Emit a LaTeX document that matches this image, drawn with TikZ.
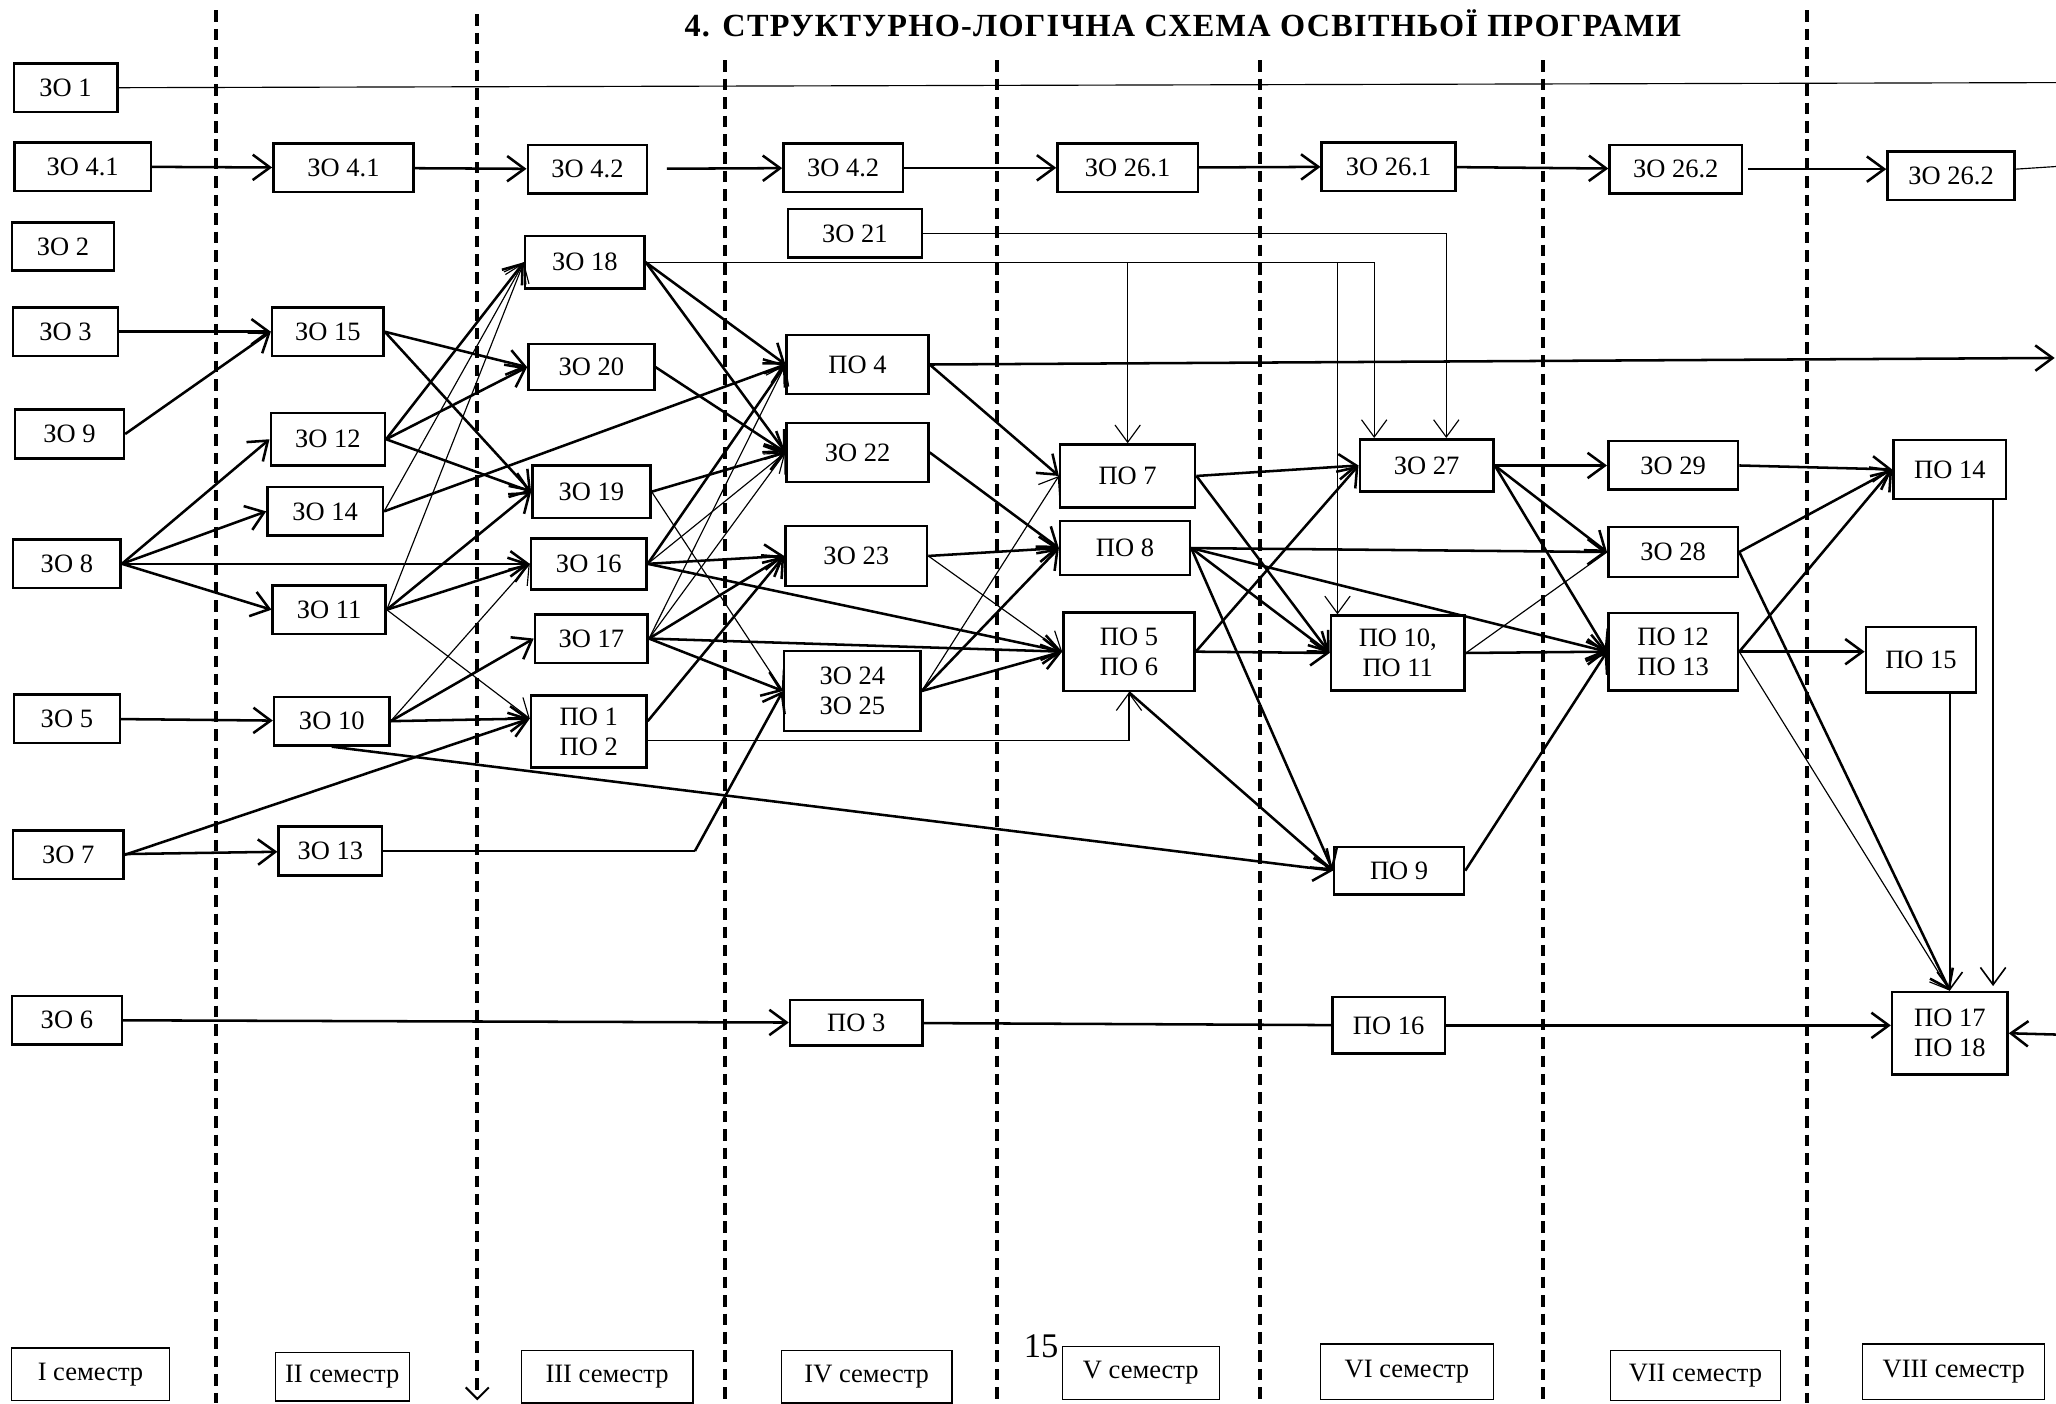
\documentclass[tikz,border=0pt]{standalone}
\usepackage{fontspec}
\setmainfont{Liberation Serif}
\usetikzlibrary{arrows.meta}

\begin{document}
\begin{tikzpicture}[
    x=0.02cm, y=-0.02cm,
    font=\fontsize{11.5}{13}\selectfont,
    zo/.style={draw, line width=1.1pt, minimum width=#1, minimum height=0.74cm, inner sep=1pt, align=center},
    zo/.default=1.7cm,
    sem/.style={draw, line width=0.5pt, minimum width=#1, minimum height=0.8cm, inner sep=1pt},
    semline/.style={line width=1.7pt, dash pattern=on 5pt off 3pt},
    arr/.style={-{Straight Barb[length=7.5pt,width=11pt]}, line width=1.1pt},
    tarr/.style={arr, line width=0.5pt},
    tline/.style={line width=0.5pt},
    bline/.style={line width=1.1pt}
  ]
  \useasboundingbox (0,0) rectangle (1568,1070);

  % Semester borders
  \foreach \x/\t in {165/8, 553/46, 760/46, 961/46, 1177/46, 1378/8}
    \draw[semline] (\x,\t) -- (\x,1070);
  \draw[semline, -{Straight Barb[length=5pt,width=10pt,line width=0.9pt]}] (364,11) -- (364,1068);

  % Title and page number
  \node[font=\bfseries\fontsize{14}{16}\selectfont\addfontfeature{LetterSpace=4}] (title) at (902,18) {4. СТРУКТУРНО-ЛОГІЧНА СХЕМА ОСВІТНЬОЇ ПРОГРАМИ};
  \node[font=\fontsize{15}{17}\selectfont] (pnum) at (794,1027) {15};

  % I semester
  \node[zo=1.58cm] (zo1) at (50,67) {ЗО 1};
  \node[zo=2.08cm] (zo41a) at (63,127) {ЗО 4.1};
  \node[zo=1.56cm] (zo2) at (48,188) {ЗО 2};
  \node[zo=1.6cm] (zo3) at (50,253) {ЗО 3};
  \node[zo=1.66cm] (zo9) at (53,331) {ЗО 9};
  \node[zo=1.64cm] (zo8) at (51,430) {ЗО 8};
  \node[zo=1.62cm] (zo5) at (51,548) {ЗО 5};
  \node[zo=1.68cm] (zo7) at (52,652) {ЗО 7};
  \node[zo=1.68cm] (zo6) at (51,778) {ЗО 6};

  % II semester
  \node[zo=2.14cm] (zo41b) at (262,128) {ЗО 4.1};
  \node[zo=1.7cm] (zo15) at (250,253) {ЗО 15};
  \node[zo=1.74cm, minimum height=0.8cm] (zo12) at (250,335) {ЗО 12};
  \node[zo=1.76cm] (zo14) at (248,390) {ЗО 14};
  \node[zo=1.72cm] (zo11) at (251,465) {ЗО 11};
  \node[zo=1.76cm] (zo10) at (253,550) {ЗО 10};
  \node[zo=1.58cm] (zo13) at (252,649) {ЗО 13};

  % III semester
  \node[zo=1.82cm] (zo42a) at (448,129) {ЗО 4.2};
  \node[zo=1.82cm, minimum height=0.8cm] (zo18) at (446,200) {ЗО 18};
  \node[zo=1.92cm, minimum height=0.7cm] (zo20) at (451,280) {ЗО 20};
  \node[zo=1.8cm, minimum height=0.8cm] (zo19) at (451,375) {ЗО 19};
  \node[zo=1.76cm, minimum height=0.78cm] (zo16) at (449,430) {ЗО 16};
  \node[zo=1.72cm] (zo17) at (451,487) {ЗО 17};
  \node[zo=1.76cm, minimum height=1.1cm] (po12) at (449,558) {ПО 1\\ПО 2};

  % IV semester
  \node[zo=1.82cm] (zo42b) at (643,128) {ЗО 4.2};
  \node[zo=2.04cm] (zo21) at (652,178) {ЗО 21};
  \node[zo=2.16cm, minimum height=0.9cm] (po4) at (654,278) {ПО 4};
  \node[zo=2.16cm, minimum height=0.9cm] (zo22) at (654,345) {ЗО 22};
  \node[zo=2.16cm, minimum height=0.92cm] (zo23) at (653,424) {ЗО 23};
  \node[zo=2.08cm, minimum height=1.22cm] (zo2425) at (650,527) {ЗО 24\\ЗО 25};
  \node[zo=2.02cm, minimum height=0.7cm] (po3) at (653,780) {ПО 3};

  % V semester
  \node[zo=2.14cm] (zo261a) at (860,128) {ЗО 26.1};
  \node[zo=2.06cm, minimum height=0.96cm] (po7) at (860,363) {ПО 7};
  \node[zo=1.98cm, minimum height=0.82cm] (po8) at (858,418) {ПО 8};
  \node[zo=2cm, minimum height=1.2cm] (po56) at (861,497) {ПО 5\\ПО 6};

  % VI semester
  \node[zo=2.04cm] (zo261b) at (1059,127) {ЗО 26.1};
  \node[zo=2.04cm, minimum height=0.8cm] (zo27) at (1088,355) {ЗО 27};
  \node[zo=2.04cm, minimum height=1.14cm] (po1011) at (1066,498) {ПО 10,\\ПО 11};
  \node[zo=1.98cm, minimum height=0.72cm] (po9) at (1067,664) {ПО 9};
  \node[zo=1.72cm, minimum height=0.86cm] (po16) at (1059,782) {ПО 16};

  % VII semester
  \node[zo=2.02cm] (zo262a) at (1278,129) {ЗО 26.2};
  \node[zo=1.98cm] (zo29) at (1276,355) {ЗО 29};
  \node[zo=1.98cm, minimum height=0.76cm] (zo28) at (1276,421) {ЗО 28};
  \node[zo=1.98cm, minimum height=1.18cm] (po1213) at (1276,497) {ПО 12\\ПО 13};

  % VIII semester
  \node[zo=1.94cm] (zo262b) at (1488,134) {ЗО 26.2};
  \node[zo=1.72cm, minimum height=0.9cm] (po14) at (1487,358) {ПО 14};
  \node[zo=1.68cm, minimum height=1cm] (po15) at (1465,503) {ПО 15};
  \node[zo=1.76cm, minimum height=1.26cm] (po1718) at (1487,788) {ПО 17\\ПО 18};

  % Semester labels
  \node[sem=2.4cm] (s1) at (69,1048) {I семестр};
  \node[sem=2.04cm, minimum height=0.74cm] (s2) at (261,1050) {II семестр};
  \node[sem=2.62cm] (s3) at (463,1050) {III семестр};
  \node[sem=2.6cm] (s4) at (661,1050) {IV семестр};
  \node[sem=2.4cm] (s5) at (870,1047) {V семестр};
  \node[sem=2.64cm, minimum height=0.84cm] (s6) at (1073,1046) {VI семестр};
  \node[sem=2.6cm, minimum height=0.76cm] (s7) at (1293,1049) {VII семестр};
  \node[sem=2.78cm, minimum height=0.84cm] (s8) at (1490,1046) {VIII семестр};

  % Free ends and bend points
  \coordinate (out1) at (1568,63);
  \coordinate (out26) at (1568,127);
  \coordinate (out4) at (1567,273);
  \coordinate (out17) at (1568,789);
  \coordinate (k13) at (530,649);
  \coordinate (d27a) at ([xshift=-0.8cm]zo27.north);
  \coordinate (d27b) at ([xshift=0.3cm]zo27.north);
  \coordinate (d1011) at ([xshift=-0.92cm]po1011.north);
  \coordinate (d14) at ([xshift=0.66cm]po14.south);

  % Through lines
  \draw[tline] (zo1) -- (out1);
  \draw[arr] (zo41a) -- (zo41b);
  \draw[arr] (zo41b) -- (zo42a);
  \draw[arr, shorten <=8pt] (zo42a) -- (zo42b);
  \draw[arr] (zo42b) -- (zo261a);
  \draw[arr] (zo261a) -- (zo261b);
  \draw[arr] (zo261b) -- (zo262a);
  \draw[arr, shorten <=2pt] (zo262a.east) -- (zo262a.east -| zo262b.west);
  \draw[tline] (zo262b.east |- zo262a.east) -- (out26);
  \draw[arr] (zo6) -- (po3);
  \draw[bline] (po3) -- (po16);
  \draw[arr] (po16.east) -- (po16.east -| po1718.west);
  \draw[arr] (out17) -- (po1718.east);
  \draw[arr] (po4.east) -- (out4);

  % I -> II
  \draw[arr] (zo3) -- (zo15.west);
  \draw[arr] (zo9.east) -- (zo15.west);
  \foreach \t in {zo12, zo14, zo16, zo11}
    \draw[arr] (zo8.east) -- (\t.west);
  \draw[arr] (zo5) -- (zo10);
  \draw[arr] (zo7) -- (zo13);
  \draw[arr] (zo7.east) -- ([yshift=0.2cm]po12.west);

  % II -> III
  \draw[arr] (zo15.east) -- (zo20.west);
  \draw[arr] (zo15.east) -- (zo19.west);
  \draw[arr] (zo12.east) -- (zo18.west);
  \draw[arr] (zo12.east) -- (zo20.west);
  \draw[arr] (zo12.east) -- (zo19.west);
  \draw[arr] (zo14.east) -- (po4.west);
  \draw[tarr] (zo14.east) -- (zo18.west);
  \draw[tarr] (zo11.east) -- (zo18.west);
  \draw[arr] (zo11.east) -- (zo19.west);
  \draw[arr] (zo11.east) -- (zo16.west);
  \draw[tarr] (zo11.east) -- ([yshift=0.2cm]po12.west);
  \draw[tarr] (zo10.east) -- (zo16.west);
  \draw[arr] (zo10.east) -- (zo17.west);
  \draw[arr] (zo10.east) -- ([yshift=0.2cm]po12.west);
  \draw[arr] (zo10.south) -- (po9.west);
  \draw[tline] (zo13.east) -- (k13);
  \draw[arr] (k13) -- (zo2425.west);

  % III -> IV
  \draw[arr] (zo18.east) -- (po4.west);
  \draw[arr] (zo18.east) -- (zo22.west);
  \draw[tarr] (zo18.east) -| (d27a);
  \draw[tarr] (zo18.east -| po7.north) -- (po7.north);
  \draw[tarr] (zo18.east -| d1011) -- (d1011);
  \draw[tarr] (zo21.east) -| (d27b);
  \draw[arr] (zo20.east) -- (zo22.west);
  \draw[arr] (zo19.east) -- (zo22.west);
  \draw[tarr] (zo19.east) -- (zo2425.west);
  \draw[arr] (zo16.east) -- (po4.west);
  \draw[tarr] (zo16.east) -- (zo22.west);
  \draw[arr] (zo16.east) -- (zo23.west);
  \draw[arr] (zo16.east) -- (po56.west);
  \draw[tarr] (zo17.east) -- (po4.west);
  \draw[tarr] (zo17.east) -- (zo22.west);
  \draw[arr] (zo17.east) -- (zo23.west);
  \draw[arr] (zo17.east) -- (zo2425.west);
  \draw[arr] (zo17.east) -- (po56.west);
  \draw[arr] ([yshift=0.16cm]po12.east) -- (zo23.west);
  \draw[tarr] ([yshift=-0.14cm]po12.east) -| (po56.south);

  % IV -> V
  \draw[arr] (po4.east) -- (po7.west);
  \draw[arr] (zo22.east) -- (po8.west);
  \draw[arr] (zo23.east) -- (po8.west);
  \draw[tarr] (zo23.east) -- (po56.west);
  \draw[tarr] (zo2425.east) -- (po7.west);
  \draw[arr] (zo2425.east) -- (po8.west);
  \draw[arr] (zo2425.east) -- (po56.west);

  % V -> VI
  \draw[arr] (po7.east) -- (zo27.west);
  \draw[arr] (po7.east) -- (po1011.west);
  \draw[arr] (po8.east) -- (zo28.west);
  \draw[arr] (po8.east) -- (po1213.west);
  \draw[arr] (po8.east) -- (po1011.west);
  \draw[arr] (po8.east) -- (po9.west);
  \draw[arr] (po56.east) -- (zo27.west);
  \draw[arr] (po56.east) -- (po1011.west);
  \draw[arr] (po56.south) -- (po9.west);

  % VI -> VII
  \draw[arr] (zo27.east) -- (zo29.west);
  \draw[arr] (zo27.east) -- (zo28.west);
  \draw[arr] (zo27.east) -- (po1213.west);
  \draw[arr] (po1011.east) -- (po1213.west);
  \draw[tline] (po1011.east) -- (zo28.west);
  \draw[arr] (po9.east) -- (po1213.west);

  % VII -> VIII
  \draw[arr] (zo29.east) -- (po14.west);
  \draw[arr] (zo28.east) -- (po14.west);
  \draw[arr] (po1213.east) -- (po14.west);
  \draw[arr] (po1213.east) -- (po1213.east -| po15.west);
  \draw[arr] (zo28.east) -- (po1718.north);
  \draw[tarr] (po1213.east) -- (po1718.north);
  \draw[arr, line width=0.7pt] (po15.south -| po1718.north) -- (po1718.north);
  \draw[arr, line width=0.7pt, shorten >=2pt] (d14) -- (d14 |- po1718.north);

\end{tikzpicture}
\end{document}
